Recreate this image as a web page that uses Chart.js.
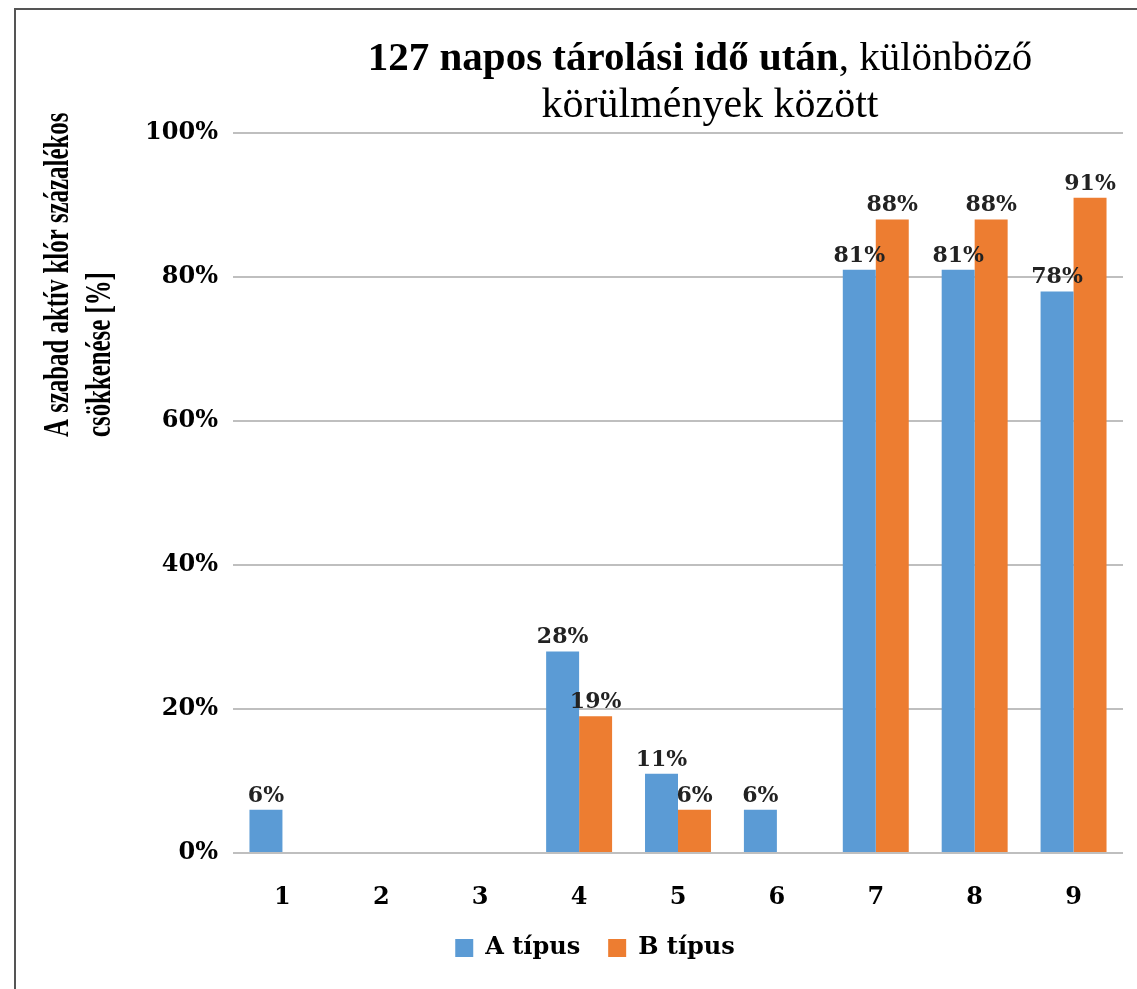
<!DOCTYPE html>
<html>
<head>
<meta charset="utf-8">
<script src="https://cdn.jsdelivr.net/npm/chart.js@4"></script>
<style>
    html, body { margin: 0; padding: 0; background: #fff; overflow: hidden; }
    #frame {
        position: absolute; left: 14px; top: 8px; width: 1200px; height: 1100px;
        border-left: 2px solid #555; border-top: 2px solid #555;
    }
    #wrap { position: absolute; left: 0; top: 0; width: 1137px; height: 989px; }
</style>
</head>
<body>
<div id="frame"></div>
<div id="wrap"><canvas id="chart" width="1137" height="989"></canvas></div>
<script>
// Adatok
const categories = ['1', '2', '3', '4', '5', '6', '7', '8', '9'];
const seriesNames = ['A típus', 'B típus'];
const valuesA = [6, 0, 0, 28, 11, 6, 81, 81, 78];
const valuesB = [0, 0, 0, 19, 6, 0, 88, 88, 91];
const yTicks = [0, 20, 40, 60, 80, 100];
const colors = ['#5B9BD5', '#ED7D31'];

const titleBold = '127 napos tárolási idő után';
const titleRest = ', különböző';
const titleLine2 = 'körülmények között';
const yTitleLines = ['A szabad aktív klór százalékos', 'csökkenése [%]'];

const serif = '"Liberation Serif", "Times New Roman", serif';
const wideSerif = '"DejaVu Serif", serif';

// Cím rajzolása (vegyes félkövér / normál)
const titlePlugin = {
    id: 'mixedTitle',
    afterDraw(chart) {
        const ctx = chart.ctx;
        const cx = 700;
        ctx.save();
        ctx.fillStyle = '#000';
        ctx.textBaseline = 'alphabetic';
        ctx.textAlign = 'left';
        ctx.font = 'bold 41px ' + serif;
        const wBold = ctx.measureText(titleBold).width;
        ctx.font = '41px ' + serif;
        const wRest = ctx.measureText(titleRest).width;
        let x = cx - (wBold + wRest) / 2;
        ctx.font = 'bold 41px ' + serif;
        ctx.fillText(titleBold, x, 70);
        ctx.font = '41px ' + serif;
        ctx.fillText(titleRest, x + wBold, 70);
        ctx.font = '42px ' + serif;
        ctx.textAlign = 'center';
        ctx.fillText(titleLine2, 710, 117);
        ctx.restore();
    }
};

// Függőleges tengelycím (keskenyített)
const yTitlePlugin = {
    id: 'yTitle',
    afterDraw(chart) {
        const ctx = chart.ctx;
        ctx.save();
        ctx.fillStyle = '#000';
        ctx.font = 'bold 36px ' + serif;
        ctx.textAlign = 'left';
        ctx.textBaseline = 'alphabetic';
        yTitleLines.forEach((line, i) => {
            ctx.save();
            ctx.translate(68 + i * 42, 437);
            ctx.rotate(-Math.PI / 2);
            ctx.scale(0.69, 1);
            ctx.fillText(line, 0, 0);
            ctx.restore();
        });
        ctx.restore();
    }
};

// Adatfeliratok az oszlopok fölött
const labelPlugin = {
    id: 'barLabels',
    afterDatasetsDraw(chart) {
        const ctx = chart.ctx;
        ctx.save();
        ctx.font = 'bold 22px ' + wideSerif;
        ctx.fillStyle = '#222';
        ctx.textAlign = 'center';
        ctx.textBaseline = 'alphabetic';
        chart.data.datasets.forEach((ds, di) => {
            const meta = chart.getDatasetMeta(di);
            meta.data.forEach((bar, i) => {
                const v = ds.data[i];
                if (!v) return;
                ctx.fillText(v + '%', bar.x, bar.y - 8);
            });
        });
        ctx.restore();
    }
};

const chart = new Chart(document.getElementById('chart'), {
    type: 'bar',
    data: {
        labels: categories,
        datasets: [
            { label: seriesNames[0], data: valuesA, backgroundColor: colors[0] },
            { label: seriesNames[1], data: valuesB, backgroundColor: colors[1] }
        ]
    },
    options: {
        responsive: false,
        animation: false,
        categoryPercentage: 0.667,
        barPercentage: 1.0,
        layout: { padding: { left: 67, right: 14, top: 133, bottom: 19 } },
        scales: {
            x: {
                grid: { display: false },
                border: { display: false },
                ticks: {
                    color: '#000',
                    padding: 22,
                    font: { family: wideSerif, size: 24, weight: 'bold' }
                },
                afterFit(scale) { scale.height = 55; }
            },
            y: {
                min: 0,
                max: 100,
                afterBuildTicks(scale) { scale.ticks = yTicks.map(v => ({ value: v })); },
                grid: { color: '#BFBFBF', lineWidth: 2, drawTicks: false },
                border: { display: false },
                ticks: {
                    color: '#000',
                    padding: 15,
                    font: { family: wideSerif, size: 24, weight: 'bold' },
                    callback: v => v + '%'
                },
                afterFit(scale) { scale.width = 166; }
            }
        },
        plugins: {
            title: { display: false },
            tooltip: { enabled: false },
            legend: {
                position: 'bottom',
                labels: {
                    color: '#000',
                    boxWidth: 18,
                    boxHeight: 18,
                    padding: 28,
                    font: { family: wideSerif, size: 24, weight: 'bold' }
                }
            }
        }
    },
    plugins: [titlePlugin, yTitlePlugin, labelPlugin]
});
</script>
</body>
</html>
